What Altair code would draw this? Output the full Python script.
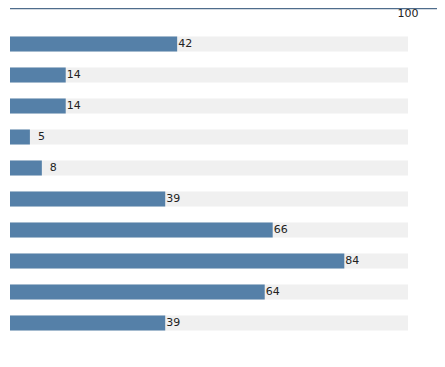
import altair as alt
import pandas as pd

categories = ["Item 1", "Item 2", "Item 3", "Item 4", "Item 5",
              "Item 6", "Item 7", "Item 8", "Item 9", "Item 10"]
values = [42, 14, 14, 5, 8, 39, 66, 84, 64, 39]
max_value = 100
axis_ticks = [100]

df = pd.DataFrame({"cat": categories, "value": values, "max": [max_value] * len(values)})
tick_df = pd.DataFrame({"t": axis_ticks, "label": [str(t) for t in axis_ticks]})

W = 427
xs = alt.Scale(domain=[0, 100 * W / 398], nice=False, zero=True)
ys = alt.Scale(domain=categories, paddingInner=0.516, paddingOuter=0.919, range=[0, 351])

base = alt.Chart(df)

bg = base.mark_bar(color="#f0f0f0").encode(
    x=alt.X("max:Q", scale=xs, axis=None),
    y=alt.Y("cat:N", scale=ys, axis=None, sort=categories),
)
bars = base.mark_bar(color="#5580a8").encode(
    x=alt.X("value:Q", scale=xs, axis=None),
    y=alt.Y("cat:N", scale=ys, axis=None, sort=categories),
)
labels = base.mark_text(align="right", baseline="middle", dx=15, font="DejaVu Sans",
                        fontSize=11, color="#222222").encode(
    x=alt.X("value:Q", scale=xs, axis=None),
    y=alt.Y("cat:N", scale=ys, axis=None, sort=categories),
    text="value:Q",
)
topline = alt.Chart(tick_df).mark_rule(color="#4f6d8c", strokeWidth=1.5).encode(
    x=alt.value(0), x2=alt.value(W), y=alt.value(0.5)
)
ticklabel = alt.Chart(tick_df).mark_text(align="center", baseline="middle", font="DejaVu Sans",
                                          fontSize=11, color="#222222").encode(
    x=alt.X("t:Q", scale=xs, axis=None),
    y=alt.value(6),
    text="label:N",
)

chart = alt.layer(bg, bars, labels, topline, ticklabel).properties(
    width=W, height=330,
    padding={"left": 2, "top": 0, "right": 0, "bottom": 0},
    autosize=alt.AutoSizeParams(type="none"),
).configure_view(stroke=None)

chart.save("out.html", embed_options={"renderer": "svg", "actions": False})
